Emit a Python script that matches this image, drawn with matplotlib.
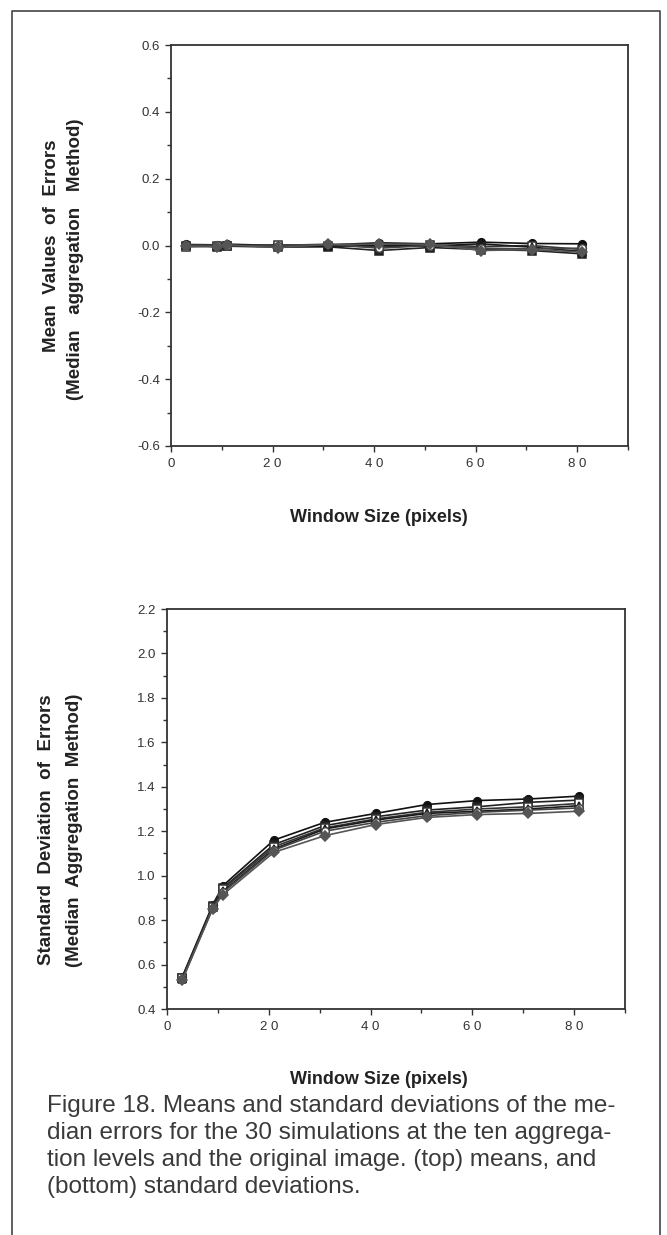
import matplotlib
matplotlib.use('Agg')
import matplotlib.pyplot as plt
from matplotlib.lines import Line2D
from matplotlib.ticker import MultipleLocator

# Window sizes (pixels) at the aggregation levels
window_size = [3, 9, 11, 21, 31, 41, 51, 61, 71, 81]

# Mean values of errors (top panel)
mean_a = [0.003, 0.002, 0.004, 0.000, 0.002, 0.008, 0.005, 0.010, 0.006, 0.005]
mean_b = [0.000, -0.003, -0.002, -0.005, -0.004, -0.015, -0.006, -0.012, -0.015, -0.025]
mean_c = [-0.004, -0.002, 0.000, 0.002, 0.000, -0.005, 0.002, -0.003, 0.000, -0.012]
mean_d = [0.002, 0.000, 0.001, -0.002, -0.002, 0.000, -0.002, 0.005, -0.005, -0.018]
mean_e = [0.001, 0.001, -0.001, 0.000, 0.004, -0.008, 0.000, -0.008, -0.010, -0.008]
mean_f = [-0.002, -0.004, 0.002, -0.006, 0.003, 0.004, 0.004, -0.015, -0.012, -0.020]

# Standard deviations of errors (bottom panel)
std_a = [0.545, 0.870, 0.955, 1.160, 1.240, 1.280, 1.320, 1.338, 1.345, 1.358]
std_b = [0.540, 0.865, 0.945, 1.140, 1.225, 1.265, 1.295, 1.310, 1.330, 1.340]
std_c = [0.538, 0.860, 0.940, 1.130, 1.215, 1.255, 1.285, 1.300, 1.310, 1.325]
std_d = [0.535, 0.858, 0.930, 1.120, 1.210, 1.250, 1.280, 1.290, 1.300, 1.315]
std_e = [0.533, 0.856, 0.925, 1.115, 1.200, 1.240, 1.270, 1.285, 1.295, 1.305]
std_f = [0.530, 0.852, 0.915, 1.105, 1.180, 1.230, 1.262, 1.275, 1.280, 1.290]

mean_series = [mean_a, mean_b, mean_c, mean_d, mean_e, mean_f]
std_series = [std_a, std_b, std_c, std_d, std_e, std_f]

x_ticks = [0, 20, 40, 60, 80]
x_tick_labels = ['0', '2 0', '4 0', '6 0', '8 0']

# marker styles: (marker, filled, colour)
styles = [('o', True, '#111111'), ('s', True, '#222222'), ('s', False, '#333333'),
          ('^', True, '#1a1a1a'), ('o', False, '#444444'), ('D', True, '#555555')]

caption_lines = ['Figure 18. Means and standard deviations of the me-',
                 'dian errors for the 30 simulations at the ten aggrega-',
                 'tion levels and the original image. (top) means, and',
                 '(bottom) standard deviations.']

W, H = 667, 1235
fig = plt.figure(figsize=(W / 100, H / 100), dpi=100)
plt.rcParams['font.family'] = ['Liberation Sans', 'DejaVu Sans']

def fx(px):
    return px / W

def fy(py):
    return 1 - py / H

# page frame (open at the bottom)
fig.add_artist(Line2D([fx(12), fx(12), fx(660), fx(660)], [0, fy(11), fy(11), 0],
                      transform=fig.transFigure, color='#444444', lw=1.2))

def style_axes(ax, ymin, ymax):
    ax.set_xlim(0, 90)
    ax.set_ylim(ymin, ymax)
    ax.xaxis.set_minor_locator(MultipleLocator(10))
    ax.yaxis.set_major_locator(MultipleLocator(0.2))
    ax.yaxis.set_minor_locator(MultipleLocator(0.1))
    ax.set_xticks(x_ticks)
    ax.set_xticklabels(x_tick_labels)
    ax.tick_params(which='major', direction='out', length=4, width=1.0,
                   labelsize=9.5, colors='#333333', pad=5)
    ax.tick_params(which='minor', direction='out', length=3, width=1.0, colors='#333333')
    ax.tick_params(axis='y', pad=4)
    for s in ax.spines.values():
        s.set_linewidth(1.3)
        s.set_color('#333333')
    ax.yaxis.set_major_formatter(plt.FuncFormatter(lambda v, p: f'{v:.1f}'))

def draw(ax, series):
    for vals, (m, filled, c) in zip(series, styles):
        ax.plot(window_size, vals, color=c, lw=1.2, marker=m, markersize=5.5,
                markerfacecolor=c if filled else 'white', markeredgecolor=c,
                markeredgewidth=1.1)

# top panel: means
ax1 = fig.add_axes([fx(171), fy(446), fx(628) - fx(171), fy(45) - fy(446)])
draw(ax1, mean_series)
style_axes(ax1, -0.6, 0.6)

# bottom panel: standard deviations
ax2 = fig.add_axes([fx(167), fy(1009), fx(625) - fx(167), fy(609) - fy(1009)])
draw(ax2, std_series)
style_axes(ax2, 0.4, 2.2)

# axis labels
xlab = dict(fontsize=13, fontweight='bold', color='#222222', ha='center', va='center')
ylab = dict(fontsize=13.5, fontweight='bold', color='#222222', ha='center', va='center',
            rotation=90)
fig.text(fx(379), fy(518), 'Window Size (pixels)', **xlab)
fig.text(fx(379), fy(1079), 'Window Size (pixels)', **xlab)
fig.text(fx(52), fy(246), 'Mean  Values  of  Errors', **ylab)
fig.text(fx(76), fy(259), '(Median   aggregation   Method)', **ylab)
fig.text(fx(47), fy(830), 'Standard  Deviation  of  Errors', **ylab)
fig.text(fx(75), fy(830), '(Median  Aggregation  Method)', **ylab)

# caption, one line per baseline
for i, line in enumerate(caption_lines):
    fig.text(fx(47), fy(1112 + 27 * i), line, fontsize=17.5, color='#3a3a3a',
             ha='left', va='baseline')

fig.savefig('out.png', dpi=100)
